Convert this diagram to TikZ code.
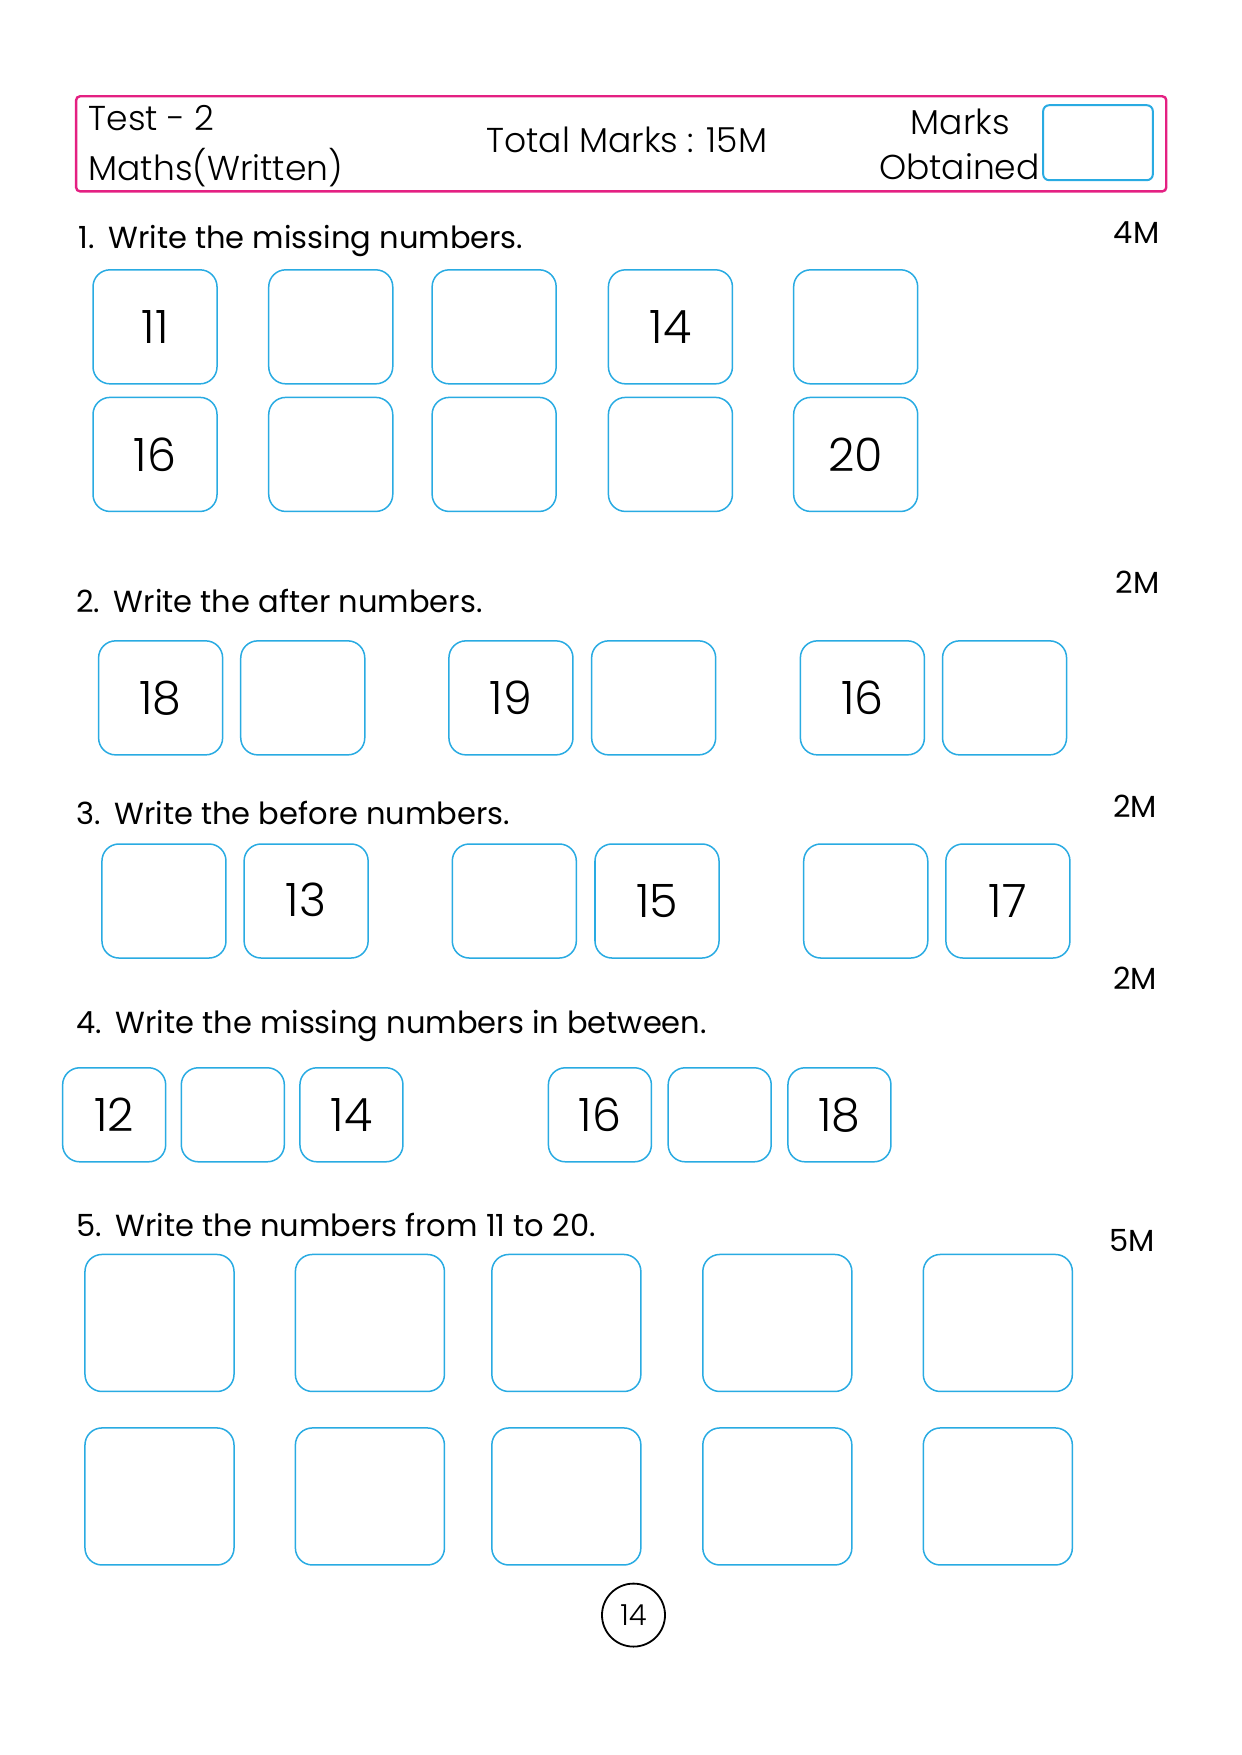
\documentclass[tikz,border=0pt]{standalone}
\usepackage{fontspec}
\setmainfont{Poppins}
\newfontfamily\thinfont{Poppins Light}
\definecolor{pinkline}{RGB}{228,32,130}
\definecolor{boxblue}{RGB}{41,171,226}
\newcommand{\qtextsize}{\fontsize{30.5}{36}\selectfont}
\newcommand{\headsize}{\fontsize{34.5}{40}\selectfont}
\newcommand{\qnum}[1]{#1.\hspace{0.45em}}
\tikzset{
  numbox/.style={draw=boxblue, line width=1.5pt, rounded corners=17pt,
    minimum width=124pt, minimum height=114pt, inner sep=0pt,
    font=\thinfont\fontsize{46}{50}\selectfont},
  midbox/.style={numbox, minimum width=103pt, minimum height=94pt},
  bigbox/.style={numbox, minimum width=149pt, minimum height=137pt},
  question/.style={anchor=base west, font=\qtextsize, inner sep=0pt},
  marks/.style={anchor=base east, font=\qtextsize, inner sep=0pt},
  headtext/.style={font=\thinfont\headsize, inner sep=0pt}
}
\begin{document}
\begin{tikzpicture}[x=1.119pt, y=-1.119pt]
\useasboundingbox (0,0) rectangle (1109,1568);
% Header strip
\draw[pinkline, line width=2.4pt, rounded corners=4pt] (68,86) rectangle (1042,171);
\node[headtext, anchor=base west] (test) at (79,117) {Test - 2};
\node[headtext, anchor=base west] (subject) at (79,161) {Maths(Written)};
\node[headtext, anchor=base] (total) at (560,136) {Total Marks : 15M};
\node[headtext, anchor=base] (marks) at (858,120) {Marks};
\node[headtext, anchor=base east] (obtained) at (929,160) {Obtained};
\draw[boxblue, line width=2pt, rounded corners=6pt] (932,94) rectangle (1030,161);

% 1. missing numbers, two rows
\node[question] (q1) at (70,222) {\qnum{1}Write the missing numbers.};
\node[marks] (m1) at (1036,218) {4M};
\foreach \x/\a/\b [count=\i] in {138.5/11/16, 295.5/{}/{}, 441.5/{}/{}, 599/14/{}, 764.5/{}/20}
{
  \node[numbox] (qa\i) at (\x,292) {\a};
  \node[numbox] (qb\i) at (\x,406) {\b};
}

% 2. after numbers
\node[question] (q2) at (68,547) {\qnum{2}Write the after numbers.};
\node[marks] (m2) at (1036,530) {2M};
\foreach \x/\a [count=\i] in {143.5/18, 270.5/{}, 456.5/19, 584/{}, 770.5/16, 897.5/{}}
  \node[numbox] (af\i) at (\x,623.5) {\a};

% 3. before numbers
\node[question] (q3) at (68,737) {\qnum{3}Write the before numbers.};
\node[marks] (m3) at (1034,730) {2M};
\foreach \x/\a/\dy [count=\i] in {146.5/{}/0, 273.5/13/-3, 459.5/{}/0, 587/15/5, 773.5/{}/0, 900.5/17/0}
  \node[numbox] (bf\i) at (\x,805) {\raisebox{-\dy pt}{\a}};

% 4. numbers in between
\node[marks] (m4) at (1034,884) {2M};
\node[question] (q4) at (68,923) {\qnum{4}Write the missing numbers in between.};
\foreach \x/\a [count=\i] in {102/12, 208/{}, 314/14, 536/16, 643/{}, 750/18}
  \node[midbox] (bt\i) at (\x,996) {\a};

% 5. numbers 11 to 20, empty grid
\node[question] (q5) at (68,1105) {\qnum{5}Write the numbers from 11 to 20.};
\node[marks] (m5) at (1032,1118) {5M};
\foreach \x [count=\i] in {142.5, 330.5, 506, 694.5, 891.5}
{
  \node[bigbox] (ga\i) at (\x,1182) {};
  \node[bigbox] (gb\i) at (\x,1337) {};
}

% page number
\node[draw, circle, line width=1.8pt, minimum size=63pt, inner sep=0pt,
  font=\thinfont\fontsize{29}{32}\selectfont] (page) at (566,1443) {14};
\end{tikzpicture}
\end{document}
